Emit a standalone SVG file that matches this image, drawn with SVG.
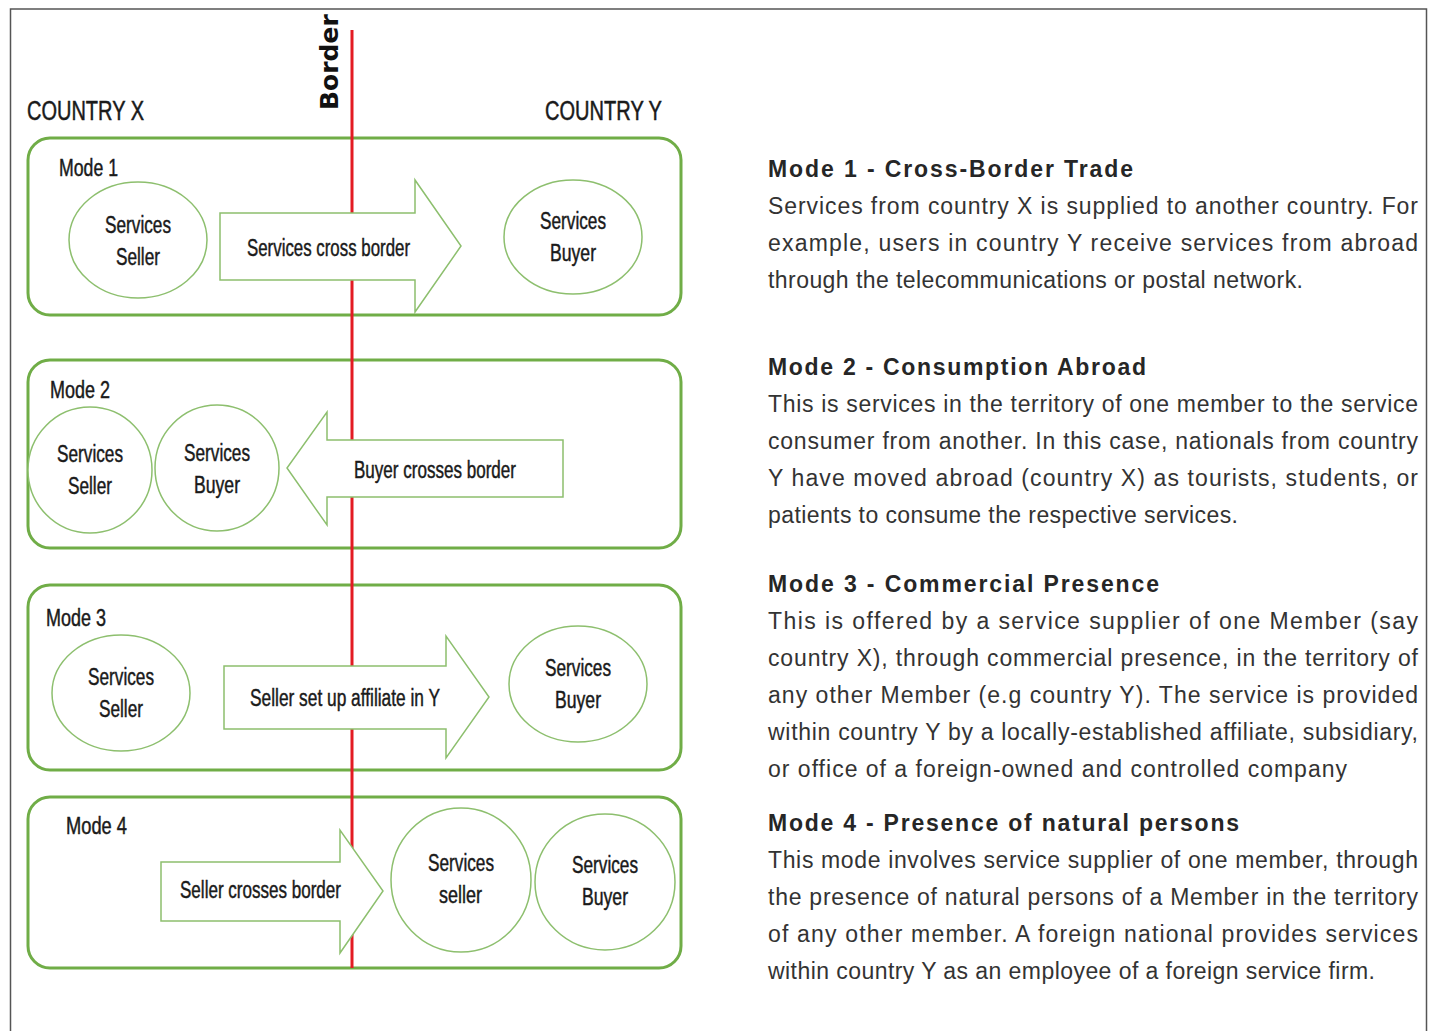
<svg xmlns="http://www.w3.org/2000/svg" width="1429" height="1031" viewBox="0 0 1429 1031">
<style>
.frame{fill:#fff;stroke:#555;stroke-width:1.5}
.box{fill:none;stroke:#70AD47;stroke-width:3}
.circ{fill:#fff;stroke:#8DBF6E;stroke-width:1.5}
.arr{fill:#fff;stroke:#8DBF6E;stroke-width:1.5}
.border{stroke:#E31B23;stroke-width:3}
.dt{font-family:"Liberation Sans",Arial,sans-serif;font-size:23px;fill:#1a1a1a;stroke:#1a1a1a;stroke-width:0.45}
.ct{font-family:"Liberation Sans",Arial,sans-serif;font-size:27px;fill:#1a1a1a;stroke:#1a1a1a;stroke-width:0.5}
.bd{font-family:"DejaVu Sans",sans-serif;font-size:25px;font-weight:bold;fill:#111}
.h{font-family:"Liberation Sans",Arial,sans-serif;font-size:23px;font-weight:bold;fill:#262626}
.p{font-family:"Liberation Sans",Arial,sans-serif;font-size:23px;fill:#333}
</style>
<rect class="frame" x="10.5" y="9" width="1416" height="1040"/>

<g id="labels">
<text class="ct" x="27" y="120" textLength="117" lengthAdjust="spacingAndGlyphs">COUNTRY X</text>
<text class="ct" x="545" y="120" textLength="117" lengthAdjust="spacingAndGlyphs">COUNTRY Y</text>
<text class="bd" transform="translate(338,110) rotate(-90)">Border</text>
</g>

<g id="mode1-box"><rect class="box" x="28" y="138" width="653" height="177" rx="22"/>
<text class="dt" x="59" y="176" textLength="59" lengthAdjust="spacingAndGlyphs">Mode 1</text></g>
<g id="mode2-box"><rect class="box" x="28" y="360" width="653" height="188" rx="22"/>
<text class="dt" x="50" y="398" textLength="60" lengthAdjust="spacingAndGlyphs">Mode 2</text></g>
<g id="mode3-box"><rect class="box" x="28" y="585" width="653" height="185" rx="22"/>
<text class="dt" x="46" y="626" textLength="60" lengthAdjust="spacingAndGlyphs">Mode 3</text></g>
<g id="mode4-box"><rect class="box" x="28" y="797" width="653" height="171" rx="22"/>
<text class="dt" x="66" y="834" textLength="61" lengthAdjust="spacingAndGlyphs">Mode 4</text></g>

<g id="connectors">
<line class="border" x1="352" y1="30" x2="352" y2="968"/>
<g id="arrow1"><polygon class="arr" points="220,213 415,213 415,180 461,246 415,312 415,280 220,280"/>
<text class="dt" x="247" y="256" textLength="163" lengthAdjust="spacingAndGlyphs">Services cross border</text></g>
<g id="arrow2"><polygon class="arr" points="563,440 327,440 327,412 287,468 327,525 327,497 563,497"/>
<text class="dt" x="354" y="478" textLength="162" lengthAdjust="spacingAndGlyphs">Buyer crosses border</text></g>
<g id="arrow3"><polygon class="arr" points="224,666 446,666 446,636 489,697 446,758 446,729 224,729"/>
<text class="dt" x="250" y="706" textLength="190" lengthAdjust="spacingAndGlyphs">Seller set up affiliate in Y</text></g>
<g id="arrow4"><polygon class="arr" points="161,862 340,862 340,830 383,891 340,953 340,921 161,921"/>
<text class="dt" x="180" y="898" textLength="161" lengthAdjust="spacingAndGlyphs">Seller crosses border</text></g>
</g>

<g id="m1-seller"><ellipse class="circ" cx="138" cy="240" rx="69" ry="58"/>
<text class="dt" x="105" y="233" textLength="66" lengthAdjust="spacingAndGlyphs">Services</text>
<text class="dt" x="116" y="265" textLength="44" lengthAdjust="spacingAndGlyphs">Seller</text></g>
<g id="m1-buyer"><ellipse class="circ" cx="573" cy="237" rx="69" ry="57"/>
<text class="dt" x="540" y="229" textLength="66" lengthAdjust="spacingAndGlyphs">Services</text>
<text class="dt" x="550" y="261" textLength="46" lengthAdjust="spacingAndGlyphs">Buyer</text></g>

<g id="m2-seller"><ellipse class="circ" cx="90" cy="470" rx="62" ry="63"/>
<text class="dt" x="57" y="462" textLength="66" lengthAdjust="spacingAndGlyphs">Services</text>
<text class="dt" x="68" y="494" textLength="44" lengthAdjust="spacingAndGlyphs">Seller</text></g>
<g id="m2-buyer"><ellipse class="circ" cx="217" cy="468" rx="62" ry="63"/>
<text class="dt" x="184" y="461" textLength="66" lengthAdjust="spacingAndGlyphs">Services</text>
<text class="dt" x="194" y="493" textLength="46" lengthAdjust="spacingAndGlyphs">Buyer</text></g>

<g id="m3-seller"><ellipse class="circ" cx="121" cy="693" rx="69" ry="58"/>
<text class="dt" x="88" y="685" textLength="66" lengthAdjust="spacingAndGlyphs">Services</text>
<text class="dt" x="99" y="717" textLength="44" lengthAdjust="spacingAndGlyphs">Seller</text></g>
<g id="m3-buyer"><ellipse class="circ" cx="578" cy="684" rx="69" ry="58"/>
<text class="dt" x="545" y="676" textLength="66" lengthAdjust="spacingAndGlyphs">Services</text>
<text class="dt" x="555" y="708" textLength="46" lengthAdjust="spacingAndGlyphs">Buyer</text></g>

<g id="m4-seller"><ellipse class="circ" cx="461" cy="880" rx="70" ry="72"/>
<text class="dt" x="428" y="871" textLength="66" lengthAdjust="spacingAndGlyphs">Services</text>
<text class="dt" x="439" y="903" textLength="43" lengthAdjust="spacingAndGlyphs">seller</text></g>
<g id="m4-buyer"><ellipse class="circ" cx="605" cy="882" rx="70" ry="68"/>
<text class="dt" x="572" y="873" textLength="66" lengthAdjust="spacingAndGlyphs">Services</text>
<text class="dt" x="582" y="905" textLength="46" lengthAdjust="spacingAndGlyphs">Buyer</text></g>

<g id="desc1">
<text class="h" x="768" y="177" textLength="365" lengthAdjust="spacing">Mode 1 - Cross-Border Trade</text>
<text class="p" x="768" y="214" textLength="650" lengthAdjust="spacing">Services from country X is supplied to another country. For</text>
<text class="p" x="768" y="251" textLength="650" lengthAdjust="spacing">example, users in country Y receive services from abroad</text>
<text class="p" x="768" y="288" textLength="535" lengthAdjust="spacing">through the telecommunications or postal network.</text>
</g>
<g id="desc2">
<text class="h" x="768" y="375" textLength="378" lengthAdjust="spacing">Mode 2 - Consumption Abroad</text>
<text class="p" x="768" y="412" textLength="650" lengthAdjust="spacing">This is services in the territory of one member to the service</text>
<text class="p" x="768" y="449" textLength="650" lengthAdjust="spacing">consumer from another. In this case, nationals from country</text>
<text class="p" x="768" y="486" textLength="650" lengthAdjust="spacing">Y have moved abroad (country X) as tourists, students, or</text>
<text class="p" x="768" y="523" textLength="470" lengthAdjust="spacing">patients to consume the respective services.</text>
</g>
<g id="desc3">
<text class="h" x="768" y="592" textLength="391" lengthAdjust="spacing">Mode 3 - Commercial Presence</text>
<text class="p" x="768" y="629" textLength="650" lengthAdjust="spacing">This is offered by a service supplier of one Member (say</text>
<text class="p" x="768" y="666" textLength="650" lengthAdjust="spacing">country X), through commercial presence, in the territory of</text>
<text class="p" x="768" y="703" textLength="650" lengthAdjust="spacing">any other Member (e.g country Y). The service is provided</text>
<text class="p" x="768" y="740" textLength="650" lengthAdjust="spacing">within country Y by a locally-established affiliate, subsidiary,</text>
<text class="p" x="768" y="777" textLength="579" lengthAdjust="spacing">or office of a foreign-owned and controlled company</text>
</g>
<g id="desc4">
<text class="h" x="768" y="831" textLength="471" lengthAdjust="spacing">Mode 4 - Presence of natural persons</text>
<text class="p" x="768" y="868" textLength="650" lengthAdjust="spacing">This mode involves service supplier of one member, through</text>
<text class="p" x="768" y="905" textLength="650" lengthAdjust="spacing">the presence of natural persons of a Member in the territory</text>
<text class="p" x="768" y="942" textLength="650" lengthAdjust="spacing">of any other member. A foreign national provides services</text>
<text class="p" x="768" y="979" textLength="607" lengthAdjust="spacing">within country Y as an employee of a foreign service firm.</text>
</g>
</svg>
